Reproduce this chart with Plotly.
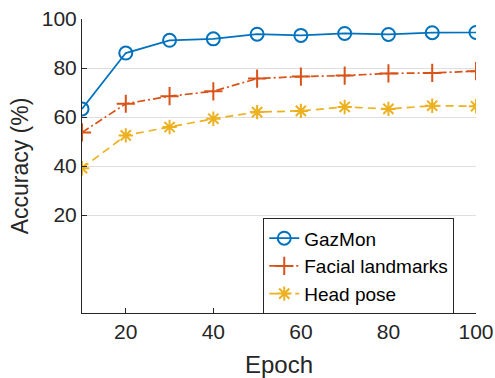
import plotly.graph_objects as go

epochs = [10, 20, 30, 40, 50, 60, 70, 80, 90, 100]
gazmon = [63.3, 86.1, 91.3, 91.9, 93.8, 93.3, 94.1, 93.7, 94.4, 94.5]
facial = [53.7, 65.4, 68.5, 70.5, 75.7, 76.5, 76.9, 77.8, 78.0, 78.7]
headpose = [39.1, 52.5, 55.9, 59.3, 62.0, 62.5, 64.1, 63.3, 64.6, 64.4]
names = ["GazMon", "Facial landmarks", "Head pose"]
yticks = [20, 40, 60, 80, 100]
xticks = [20, 40, 60, 80, 100]

colors = ["#0072BD", "#D95319", "#EDB120"]
dashes = ["solid", "8px,3px,2px,3px", "8px,5px"]
symbols = ["circle-open", "cross-thin-open", "asterisk-open"]
sizes = [13, 13, 12]

fig = go.Figure()
for ys, n, c, d, s, sz in zip([gazmon, facial, headpose], names, colors, dashes, symbols, sizes):
    fig.add_trace(go.Scatter(
        x=epochs, y=ys, name=n, mode="lines+markers",
        line=dict(color=c, width=1.7, dash=d),
        marker=dict(symbol=s, size=sz, color=c, line=dict(color=c, width=2)),
    ))

font_family = "Liberation Sans, Arial, sans-serif"
fig.update_layout(
    width=495, height=378,
    margin=dict(l=82, r=19, t=18.5, b=64.5, autoexpand=False),
    plot_bgcolor="white", paper_bgcolor="white",
    font=dict(family=font_family, color="#262626", size=21),
    showlegend=True,
    legend=dict(
        x=0.46, y=0.322, xanchor="left", yanchor="top",
        bordercolor="#262626", borderwidth=1, bgcolor="white",
        font=dict(size=19, color="black", family=font_family),
        tracegroupgap=0, itemwidth=30,
    ),
    xaxis=dict(
        range=[10, 100], tickvals=xticks, ticks="inside", ticklen=5,
        tickcolor="#262626", showline=True, linecolor="#262626", linewidth=1,
        showgrid=False, zeroline=False, automargin=False,
        tickfont=dict(size=21),
    ),
    yaxis=dict(
        range=[-20, 100], tickvals=yticks, ticks="inside", ticklen=5,
        tickcolor="#262626", showline=True, linecolor="#262626", linewidth=1,
        showgrid=True, gridcolor="#DFDFDF", gridwidth=1, zeroline=False,
        automargin=False,
        title=dict(text="Accuracy (%)", font=dict(size=23), standoff=6),
        tickfont=dict(size=21),
    ),
    annotations=[dict(
        text="Epoch", xref="paper", yref="paper", x=0.5, y=-0.175,
        xanchor="center", yanchor="middle", showarrow=False,
        font=dict(size=24, color="#262626", family=font_family),
    )],
)

fig.write_html("out.html")
